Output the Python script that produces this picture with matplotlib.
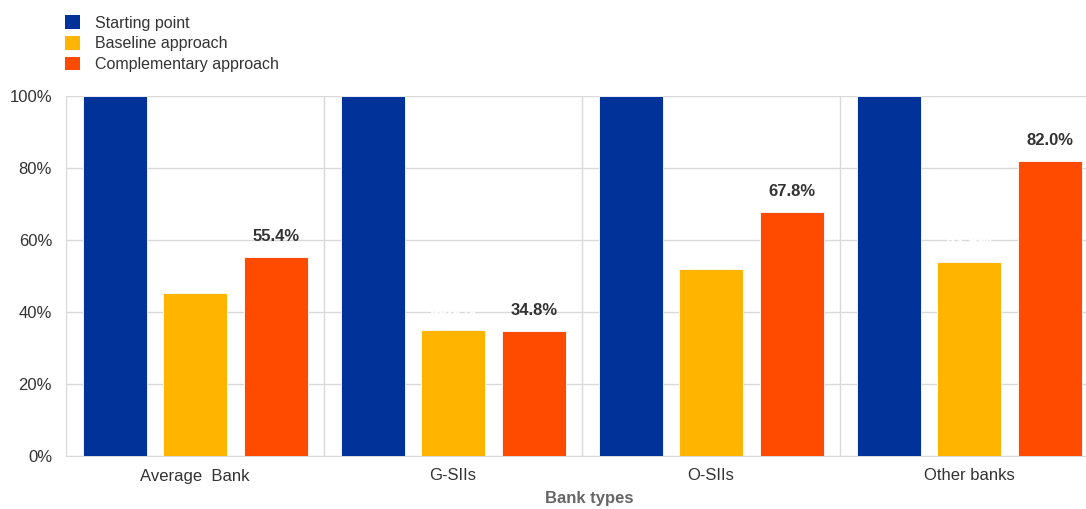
import matplotlib
matplotlib.use("Agg")
import matplotlib.pyplot as plt
from matplotlib.patches import Patch
import numpy as np

categories = ["Average  Bank", "G-SIIs", "O-SIIs", "Other banks"]
starting_point = [100, 100, 100, 100]
baseline = [45.3, 35.0, 51.9, 53.9]
complementary = [55.4, 34.8, 67.8, 82.0]
series_names = ["Starting point", "Baseline approach", "Complementary approach"]
colors = ["#003299", "#FFB400", "#FF4B00"]

plt.rcParams['font.family'] = ['Liberation Sans', 'DejaVu Sans']

fig = plt.figure(figsize=(10.86, 5.09), dpi=100)
ax = fig.add_axes([66/1086, 1-456/509, (1098 - 66)/1086, 360/509])

x = np.arange(len(categories))
w = 0.248
offs = [-0.31, 0.0, 0.314]
data = [starting_point, baseline, complementary]
bars = []
for d, o, c in zip(data, offs, colors):
    b = ax.bar(x + o, d, width=w, color=c, edgecolor="white", linewidth=0.6, zorder=3)
    bars.append(b)

# value labels
for rect, v in zip(bars[2], complementary):
    ax.text(rect.get_x() + rect.get_width()/2, v + 3.5, f"{v:.1f}%", ha="center", va="bottom",
            fontsize=12, fontweight="bold", color="#333333", zorder=4)
for rect, v in zip(bars[1], baseline):
    ax.text(rect.get_x() + rect.get_width()/2, v + 3.5, f"{v:.1f}%", ha="center", va="bottom",
            fontsize=12, fontweight="bold", color="white", zorder=4)

ax.set_xlim(-0.5, len(categories) - 0.5)
ax.set_ylim(0, 100)
ax.set_yticks(np.arange(0, 101, 20))
ax.set_yticklabels([f"{t}%" for t in range(0, 101, 20)], fontsize=12, color="#333333")
ax.set_xticks(x)
ax.set_xticklabels(categories, fontsize=12, color="#333333")
ax.tick_params(axis="y", length=0, pad=10)
ax.tick_params(axis="x", length=0, pad=9)
ax.yaxis.grid(True, color="#d9d9d9", linewidth=1, zorder=0)
for sep in np.arange(-0.5, len(categories) + 0.5, 1):
    ax.axvline(sep, color="#d9d9d9", linewidth=1, zorder=0)
for s in ["top", "right", "left"]:
    ax.spines[s].set_visible(False)
ax.spines["bottom"].set_color("#d9d9d9")
ax.set_xlabel("Bank types", fontsize=12, fontweight="bold", color="#666666")
ax.xaxis.label.set_va("center")
ax.xaxis.set_label_coords((589 - 66) / 1032, -(498 - 456) / 360)

handles = [Patch(facecolor=c, edgecolor="none") for c in colors]
fig.legend(handles, series_names, loc="upper left", bbox_to_anchor=(59/1086, 1 - 9/509),
           frameon=False, fontsize=11.5, handlelength=0.9, handleheight=0.9,
           handletextpad=0.95, labelspacing=0.36, borderaxespad=0, labelcolor="#333333")

fig.savefig("out.png", dpi=100)
